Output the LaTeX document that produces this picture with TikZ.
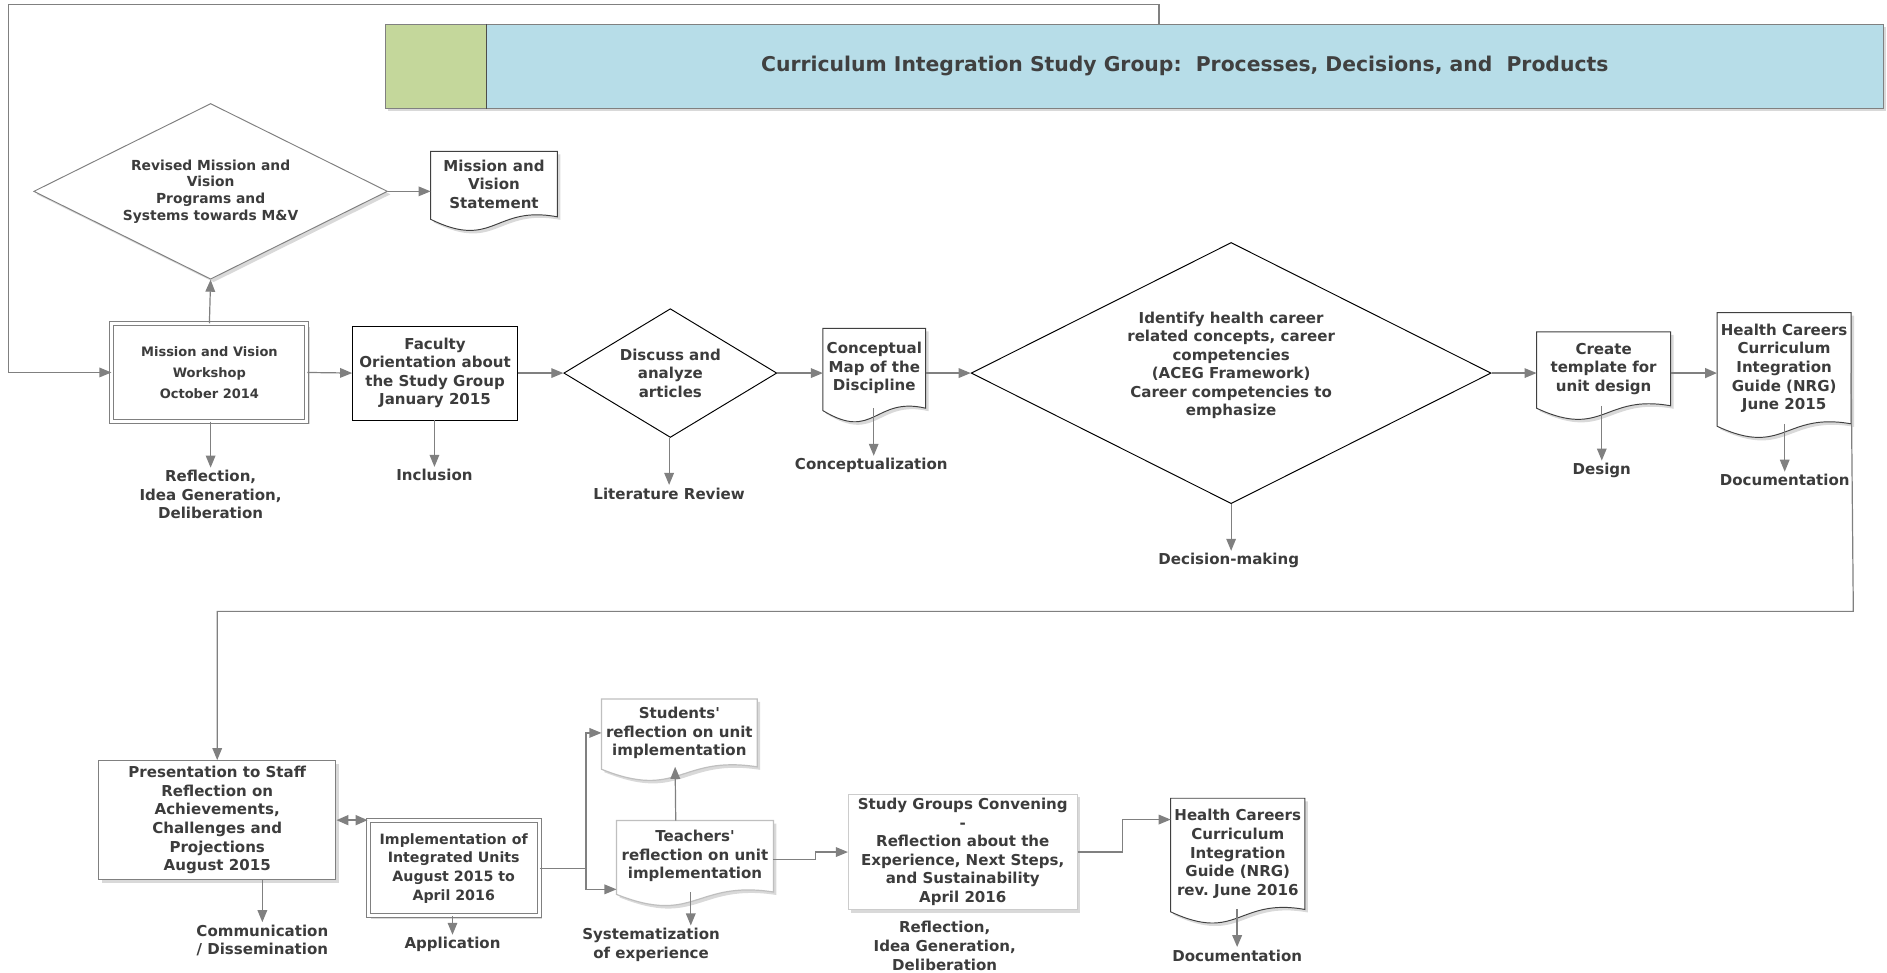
\documentclass[tikz,border=0pt]{standalone}
\usepackage{fontspec}
\setmainfont{DejaVu Sans}[Ligatures=TeXOff]
\usetikzlibrary{positioning,shapes.geometric,arrows.meta,shadows,backgrounds}

\definecolor{linegray}{RGB}{128,128,128}
\definecolor{textgray}{RGB}{60,60,60}
\definecolor{titlegreen}{RGB}{196,215,155}
\definecolor{titleblue}{RGB}{183,221,232}

\newcommand\stdfont{\bfseries\fontsize{12.5}{15.4}\selectfont}

% document symbol: straight top, wavy bottom, drawn behind its text node
\newcommand\docwave[2][docline]{%
    \begin{pgfonlayer}{background}
        \draw[#1] (#2.north west) -- (#2.north east) -- (#2.south east)
            .. controls ([yshift=10pt]#2.south) and ([yshift=-28pt]#2.south) .. ([yshift=-2pt]#2.south west) -- cycle;
    \end{pgfonlayer}}

\tikzset{
    every node/.style={font=\stdfont, text=textgray, align=center},
    arr/.style={draw=linegray, line width=1pt, -{Triangle[length=10pt,width=8pt]}},
    link/.style={draw=linegray, line width=1pt},
    softshadow/.style={drop shadow={opacity=0.3, shadow xshift=2.5pt, shadow yshift=-2.5pt}},
    titlebox/.style={draw=linegray, minimum height=70pt, inner sep=0pt, softshadow},
    procbox/.style={draw=black, line width=0.8pt, inner sep=0pt},
    grbox/.style={draw=linegray, fill=white, line width=0.8pt, inner sep=0pt, softshadow},
    dblbox/.style={grbox, double=white, double distance=2.5pt},
    decision/.style={diamond, draw=black, line width=0.8pt, inner sep=0pt, aspect=#1},
    decision/.default=2,
    doctext/.style={inner sep=0pt},
    docline/.style={draw=black!75, line width=0.8pt, fill=white, softshadow},
    faintdoc/.style={draw=black!25, line width=1pt, fill=white, softshadow},
    lab/.style={inner sep=2pt},
}

\begin{document}
\begin{tikzpicture}[x=1pt,y=-1pt]
    \useasboundingbox (0,0) rectangle (1568,808);

    % title bar
    \node[titlebox, fill=titlegreen, minimum width=84pt] (tgreen) at (362,55) {};
    \node[titlebox, fill=titleblue, minimum width=1161pt, text=black!75, font=\bfseries\fontsize{16.9}{20}\selectfont] (title) at (984.5,55)
        {Curriculum Integration Study Group:\ \ Processes, Decisions, and\ \ Products};
    \draw[black!70, line width=0.8pt] (tgreen.north east) -- (tgreen.south east);

    % first row
    \node[dblbox, minimum width=162pt, minimum height=81pt, font=\bfseries\fontsize{10.8}{17.7}\selectfont] (ws) at (174,309.5)
        {Mission and Vision\\Workshop\\October 2014};
    \node[decision=2, draw=linegray, fill=white, softshadow, minimum width=294pt, minimum height=146pt,
        font=\bfseries\fontsize{11.5}{13.9}\selectfont] (rev) at (175,159)
        {Revised Mission and\\Vision\\Programs and\\Systems towards M\&V};
    \node[doctext, minimum width=105pt, minimum height=54pt] (mvs) at (410.5,153) {Mission and\\Vision\\Statement};
    \docwave{mvs}
    \node[procbox, minimum width=137pt, minimum height=78pt] (fac) at (361.5,310)
        {Faculty\\Orientation about\\the Study Group\\January 2015};
    \node[decision=1.65, minimum width=177pt, minimum height=107pt] (disc) at (557,310) {Discuss and\\analyze\\articles};
    \node[doctext, minimum width=85pt, minimum height=66pt] (cmap) at (726.5,306) {Conceptual\\Map of the\\Discipline};
    \docwave{cmap}
    \node[decision=2, minimum width=432pt, minimum height=217pt] (ident) at (1023,310)
        {Identify health career\\related concepts, career\\competencies\\(ACEG Framework)\\Career competencies to\\emphasize\\};
    \node[doctext, minimum width=111pt, minimum height=61pt] (tmpl) at (1332.5,306.5) {Create\\template for\\unit design};
    \docwave{tmpl}
    \node[doctext, minimum width=111pt, minimum height=92pt] (nrg) at (1482.5,306)
        {Health Careers\\Curriculum\\Integration\\Guide (NRG)\\June 2015};
    \docwave{nrg}

    \node[lab] (wsl) at (175,411) {Reflection,\\Idea Generation,\\Deliberation};
    \node[lab] (facl) at (361,395) {Inclusion};
    \node[lab] (discl) at (556,410) {Literature Review};
    \node[lab] (cmapl) at (724,387) {Conceptualization};
    \node[lab] (identl) at (1021,466) {Decision-making};
    \node[lab] (tmpll) at (1331,391) {Design};
    \node[lab] (nrgl) at (1483,399) {Documentation};

    % second row
    \node[grbox, minimum width=197pt, minimum height=99pt] (pres) at (180.5,681.5)
        {Presentation to Staff\\Reflection on\\Achievements,\\Challenges and\\Projections\\August 2015};
    \node[dblbox, minimum width=142pt, minimum height=79pt, font=\bfseries\fontsize{11.8}{15.4}\selectfont] (impl) at (377,721.5)
        {Implementation of\\Integrated Units\\August 2015 to\\April 2016};
    \node[doctext, minimum width=129pt, minimum height=56pt] (stu) at (564.5,609) {Students'\\reflection on unit\\implementation};
    \docwave[faintdoc]{stu}
    \node[doctext, minimum width=130pt, minimum height=59pt] (tch) at (577.5,711.5) {Teachers'\\reflection on unit\\implementation};
    \docwave[faintdoc]{tch}
    \node[grbox, draw=black!20, minimum width=190pt, minimum height=96pt] (study) at (800,708)
        {Study Groups Convening\\-\\Reflection about the\\Experience, Next Steps,\\and Sustainability\\April 2016};
    \node[doctext, minimum width=111pt, minimum height=92pt] (nrgrev) at (1028.5,709.5)
        {Health Careers\\Curriculum\\Integration\\Guide (NRG)\\rev.\ June 2016};
    \docwave{nrgrev}

    \node[lab] (presl) at (218,781.5) {Communication\\/ Dissemination};
    \node[lab] (impll) at (376,785) {Application};
    \node[lab] (tchl) at (541,785) {Systematization\\of experience};
    \node[lab] (studyl) at (785,786) {Reflection,\\Idea Generation,\\Deliberation};
    \node[lab] (nrgrevl) at (1028,794) {Documentation};

    % connectors, first row
    \coordinate (loop) at (7,4);
    \draw[arr] ([xshift=-21.5pt]title.north) |- (loop) |- (ws.west);
    \draw[arr] (ws.north) -- (rev.south);
    \draw[arr] (rev.east) -- (rev.east -| mvs.west);
    \draw[arr] (ws.east) -- (fac.west);
    \draw[arr] (fac.east) -- (disc.west);
    \draw[arr] (disc.east) -- (disc.east -| cmap.west);
    \draw[arr] (ident.west -| cmap.east) -- (ident.west);
    \draw[arr] (ident.east) -- (ident.east -| tmpl.west);
    \draw[arr, line width=2pt] (ident.east -| tmpl.east) -- (ident.east -| nrg.west);

    \draw[arr] (wsl.north |- ws.south) -- (wsl.north);
    \draw[arr] (facl.north |- fac.south) -- (facl.north);
    \draw[arr] (discl.north |- disc.south) -- (discl.north);
    \draw[arr] ([xshift=2pt]cmapl.north |- cmap.south) -- ([xshift=2pt]cmapl.north);
    \draw[arr] ([xshift=2pt]identl.north |- ident.south) -- ([xshift=2pt]identl.north);
    \draw[arr] (tmpll.north |- tmpl.south) -- (tmpll.north);
    \draw[arr] (nrgl.north |- nrg.south) -- (nrgl.north);

    % down to the second row
    \coordinate (turn) at (1540,508);
    \draw[arr] (nrg.east |- ident.east) -- (turn) -| (pres.north);

    % connectors, second row
    \draw[arr, line width=2pt, {Triangle[length=10pt,width=8pt]}-{Triangle[length=10pt,width=8pt]}]
        (pres.east) -- (pres.east -| impl.west);
    \coordinate (split) at (487,721.5);
    \draw[link] (impl.east) -- (split);
    \draw[arr] (split) |- (stu.west);
    \draw[arr] (split) |- ([yshift=-27.5pt]tch.west);
    \draw[arr] ([xshift=-16pt]tch.north) -- ([xshift=-3.5pt]stu.south);
    \draw[arr] ([yshift=-2.5pt]tch.east) -- ++(35,0) |- (study.west);
    \draw[arr] (study.east) -- ++(37,0) |- ([yshift=28.5pt]nrgrev.west);

    \draw[arr] (presl.north |- pres.south) -- (presl.north);
    \draw[arr] (impll.north |- impl.south) -- (impll.north);
    \draw[arr] ([xshift=33pt]tchl.north |- tch.south) -- ([xshift=33pt]tchl.north);
    \draw[arr, line width=1.5pt] (nrgrevl.north |- nrgrev.south) -- (nrgrevl.north);
\end{tikzpicture}
\end{document}
